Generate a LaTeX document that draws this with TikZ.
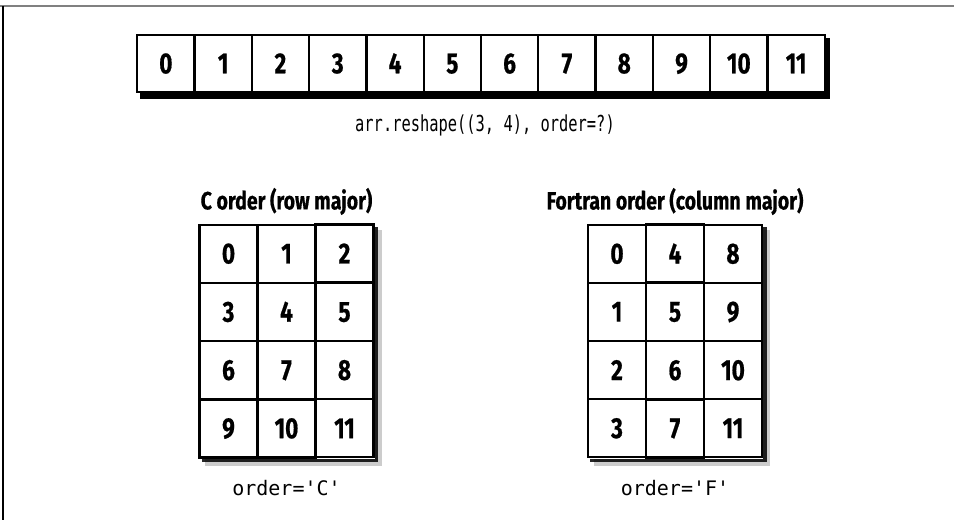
\documentclass[tikz,border=0pt]{standalone}
\usepackage{fontspec}
\setmainfont{Fira Sans}
\setmonofont{DejaVu Sans Mono}
\newfontfamily\cellfont[FakeStretch=0.78,BoldFeatures={FakeBold=0.6}]{Fira Sans}
\newfontfamily\callfont[FakeStretch=0.7]{DejaVu Sans Mono}
\usetikzlibrary{positioning,matrix,backgrounds}

\begin{document}
\begin{tikzpicture}[
  x=1pt, y=-1pt,
  node distance=8pt,
  cell/.style={draw,line width=2.2pt,outer sep=0pt,inner sep=0pt,
    minimum width=58pt,minimum height=58pt,
    font=\cellfont\bfseries\fontsize{29}{29}\selectfont},
  strip/.style={matrix of nodes,inner sep=0pt,column sep=-2.2pt,fill=white,
    nodes={cell,minimum width=57.3pt,minimum height=57pt}},
  grid/.style={matrix of nodes,inner sep=0pt,column sep=-2.2pt,row sep=-2.2pt,
    fill=white,nodes={cell}},
  heading/.style={inner sep=0pt,font=\cellfont\bfseries\fontsize{25}{25}\selectfont},
  code/.style={inner sep=0pt,font=\ttfamily\fontsize{20}{20}\selectfont}
]
  \useasboundingbox (0,0) rectangle (954,520);
  % page frame
  \draw[gray,line width=2pt] (0,6) -- (954,6);
  \draw[line width=1.3pt] (3,6) -- (3,520);

  % flat array
  \matrix[strip] (arr) at (481,63.5) {
    0 & 1 & 2 & 3 & 4 & 5 & 6 & 7 & 8 & 9 & 10 & 11 \\
  };
  \node[code,font=\callfont\fontsize{22}{22}\selectfont,below=21pt of arr,xshift=4pt] (call)
    {arr.reshape((3, 4), order=?)};

  % C order
  \matrix[grid] (cgrid) at (286.5,341) {
    0 & 1 & 2 \\
    3 & 4 & 5 \\
    6 & 7 & 8 \\
    9 & 10 & 11 \\
  };
  \node[heading,above=8pt of cgrid] (ctitle) {C order (row major)};
  \node[code,below=21pt of cgrid] (corder) {order='C'};

  % Fortran order
  \matrix[grid] (fgrid) at (675,341) {
    0 & 4 & 8 \\
    1 & 5 & 9 \\
    2 & 6 & 10 \\
    3 & 7 & 11 \\
  };
  \node[heading,above=8pt of fgrid] (ftitle) {Fortran order (column major)};
  \node[code,below=21pt of fgrid] (forder) {order='F'};

  % shadows
  \begin{scope}[on background layer]
    \fill ([shift={(4,5)}]arr.north west) rectangle ([shift={(4,5)}]arr.south east);
    \foreach \g in {cgrid,fgrid}{
      \fill[black,opacity=.2] ([shift={(7,7)}]\g.north west)
        rectangle ([shift={(7,7)}]\g.south east);
      \fill[black,opacity=.85] ([shift={(3.5,3.5)}]\g.north west)
        rectangle ([shift={(3.5,3.5)}]\g.south east);
    }
  \end{scope}
\end{tikzpicture}
\end{document}
